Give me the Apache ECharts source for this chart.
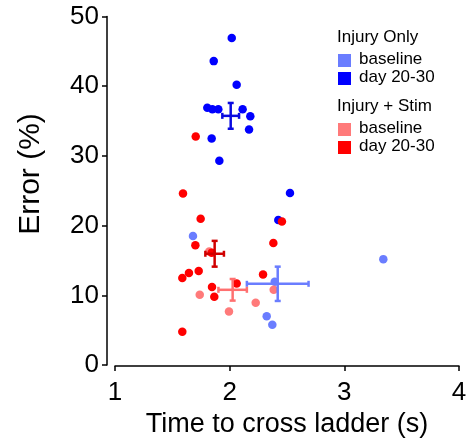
<!DOCTYPE html>
<html>
<head>
<meta charset="utf-8">
<script src="https://cdn.jsdelivr.net/npm/echarts@6/dist/echarts.min.js"></script>
<style>html,body{margin:0;padding:0;background:#fff}#c{width:471px;height:443px}</style>
</head>
<body>
<div id="c"></div>
<script>
// ---- data ----
const xTicks = [1, 2, 3, 4];
const yTicks = [0, 10, 20, 30, 40, 50];
const groupNames = ['Injury Only baseline', 'Injury Only day 20-30', 'Injury + Stim baseline', 'Injury + Stim day 20-30'];

const injuryBaseline = [[1.68,18.5],[3.34,15.2],[2.393,11.95],[2.323,7.0],[2.372,5.8]];
const injuryDay = [[2.018,46.9],[1.861,43.6],[2.061,40.2],[1.805,36.9],[1.849,36.7],[1.901,36.7],[2.113,36.7],[2.18,35.7],[2.169,33.8],[1.843,32.5],[1.91,29.3],[2.526,24.7],[2.424,20.8]];
const stimBaseline = [[1.822,16.3],[1.739,10.1],[1.994,7.7],[2.227,8.96],[2.384,10.8]];
const stimDay = [[1.704,32.8],[1.593,24.6],[1.747,21.0],[2.456,20.6],[1.701,17.2],[2.381,17.5],[1.843,16.1],[1.587,12.5],[1.645,13.2],[1.73,13.5],[2.291,13.0],[1.846,11.2],[2.061,11.7],[1.866,9.8],[1.587,4.8]];

// mean and error (x, y, xErr, yErr) per group
const injuryBaselineMean = [2.419, 11.66, 0.269, 2.46];
const injuryDayMean = [2.009, 35.75, 0.073, 1.85];
const stimBaselineMean = [2.026, 10.8, 0.124, 1.55];
const stimDayMean = [1.869, 15.97, 0.081, 1.85];

// ---- styling ----
const FONT = "'Liberation Sans', Arial, Helvetica, sans-serif";
const cLightBlue = '#6a7dff';
const cBlue = '#0000ff';
const cLightRed = '#ff7a7a';
const cRed = '#ff0000';

function crossSeries(mean, color, z) {
  return {
    type: 'custom',
    z: z,
    silent: true,
    data: [mean],
    renderItem: function (params, api) {
      const cx = api.value(0), cy = api.value(1), ex = api.value(2), ey = api.value(3);
      const L = api.coord([cx - ex, cy]);
      const R = api.coord([cx + ex, cy]);
      const T = api.coord([cx, cy + ey]);
      const B = api.coord([cx, cy - ey]);
      const cap = 3;
      const st = { stroke: color, lineWidth: 2.5 };
      const ln = (x1, y1, x2, y2) => ({ type: 'line', shape: { x1, y1, x2, y2 }, style: st });
      return {
        type: 'group',
        children: [
          ln(L[0], L[1], R[0], R[1]),
          ln(T[0], T[1], B[0], B[1]),
          ln(L[0], L[1] - cap, L[0], L[1] + cap),
          ln(R[0], R[1] - cap, R[0], R[1] + cap),
          ln(T[0] - cap, T[1], T[0] + cap, T[1]),
          ln(B[0] - cap, B[1], B[0] + cap, B[1])
        ]
      };
    }
  };
}

function scatter(name, data, color, z) {
  return { name, type: 'scatter', data, symbol: 'circle', symbolSize: 8.5, z: z,
           itemStyle: { color: color, opacity: 1 }, silent: true };
}

const legendItems = [];
function legendHeader(text, y) {
  legendItems.push({ type: 'text', left: 337, top: y, style: { text, font: '17px ' + FONT, fill: '#000' } });
}
function legendEntry(text, color, y) {
  legendItems.push({ type: 'rect', shape: { x: 338, y: y + 3, width: 13, height: 13 }, style: { fill: color } });
  legendItems.push({ type: 'text', left: 359, top: y, style: { text, font: '17px ' + FONT, fill: '#000' } });
}
legendHeader('Injury Only', 29);
legendEntry('baseline', cLightBlue, 51);
legendEntry('day 20-30', cBlue, 69);
legendHeader('Injury + Stim', 98);
legendEntry('baseline', cLightRed, 120);
legendEntry('day 20-30', cRed, 138);

// y axis title placed as rotated text
legendItems.push({
  type: 'text', x: 31, y: 174, rotation: Math.PI / 2,
  style: { text: 'Error (%)', font: '30px ' + FONT, fill: '#000', textAlign: 'center', textVerticalAlign: 'middle' }
});

const chart = echarts.init(document.getElementById('c'), null, { renderer: 'canvas' });
chart.setOption({
  animation: false,
  backgroundColor: '#fff',
  textStyle: { fontFamily: FONT },
  grid: { left: 115, right: 12, top: 16.5, bottom: 75, containLabel: false },
  xAxis: {
    type: 'value', min: xTicks[0], max: xTicks[xTicks.length - 1], interval: 1,
    offset: 1,
    name: 'Time to cross ladder (s)', nameLocation: 'middle', nameGap: 42,
    nameTextStyle: { fontSize: 27, color: '#000', fontFamily: FONT },
    axisLine: { show: true, onZero: false, lineStyle: { color: '#000', width: 1.5 } },
    axisTick: { show: true, inside: false, length: 5, lineStyle: { color: '#000', width: 1.5 } },
    axisLabel: { fontSize: 26, color: '#000', margin: 14, fontFamily: FONT },
    splitLine: { show: false }
  },
  yAxis: {
    type: 'value', min: yTicks[0], max: yTicks[yTicks.length - 1], interval: 10,
    offset: 8,
    axisLine: { show: true, onZero: false, lineStyle: { color: '#000', width: 1.5 } },
    axisTick: { show: true, inside: false, length: 5, lineStyle: { color: '#000', width: 1.5 } },
    axisLabel: { fontSize: 26, color: '#000', margin: 8, fontFamily: FONT },
    splitLine: { show: false }
  },
  graphic: legendItems,
  series: [
    scatter(groupNames[0], injuryBaseline, cLightBlue, 2),
    scatter(groupNames[1], injuryDay, cBlue, 3),
    scatter(groupNames[2], stimBaseline, cLightRed, 4),
    scatter(groupNames[3], stimDay, cRed, 5),
    crossSeries(injuryBaselineMean, cLightBlue, 6),
    crossSeries(injuryDayMean, '#0a0ae0', 6),
    crossSeries(stimBaselineMean, '#ff7070', 6),
    crossSeries(stimDayMean, '#d00000', 6)
  ]
});
</script>
</body>
</html>
